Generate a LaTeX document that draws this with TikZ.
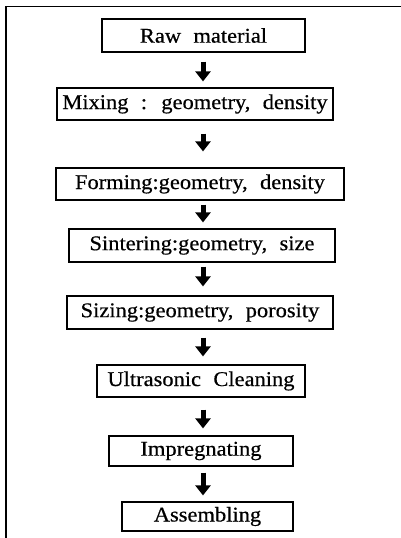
\documentclass[tikz,border=0pt]{standalone}
\usepackage{fontspec}
\newfontfamily\boxfont[FakeStretch=1.07,FakeBold=0.5,WordSpace={2.2,1,1}]{Liberation Serif}
\usetikzlibrary{arrows.meta}
\begin{document}
\begin{tikzpicture}[x=1pt,y=-1pt,
  stepbox/.style={draw,line width=1.2pt,inner sep=0pt,font=\boxfont\fontsize{21}{25}\selectfont},
  flowarrow/.style={line width=5pt,-{Triangle[width=15pt,length=10pt]}}]
\useasboundingbox (0,0) rectangle (401,538);
\draw[line width=1.8pt] (6,538) -- (6,6.5) -- (401,6.5);
\coordinate (ax) at (203,0);
\node[stepbox,minimum width=203pt,minimum height=33pt] (raw) at (203.5,35.5) {Raw material};
\node[stepbox,minimum width=276pt,minimum height=32pt] (mix) at (195,104) {Mixing : geometry, density};
\node[stepbox,minimum width=288pt,minimum height=32pt] (form) at (200,184) {Forming:geometry, density};
\node[stepbox,minimum width=266pt,minimum height=33pt] (sint) at (202,245.5) {Sintering:geometry, size};
\node[stepbox,minimum width=266pt,minimum height=33pt] (siz) at (200,312.5) {Sizing:geometry, porosity};
\node[stepbox,minimum width=208pt,minimum height=32pt] (ultra) at (201,381) {Ultrasonic Cleaning};
\node[stepbox,minimum width=184pt,minimum height=30pt] (imp) at (201,451) {Impregnating};
\node[stepbox,minimum width=171pt,minimum height=29pt] (ass) at (207.5,516.5) {Assembling};
\draw[flowarrow,shorten <=9pt,shorten >=6pt] (raw.south -| ax) -- (mix.north -| ax);
\draw[flowarrow,shorten <=13pt,shorten >=16pt] (mix.south -| ax) -- (form.north -| ax);
\draw[flowarrow,shorten <=4pt,shorten >=6pt] (form.south -| ax) -- (sint.north -| ax);
\draw[flowarrow,shorten <=4pt,shorten >=9pt] (sint.south -| ax) -- (siz.north -| ax);
\draw[flowarrow,shorten <=8pt,shorten >=8pt] (siz.south -| ax) -- (ultra.north -| ax);
\draw[flowarrow,shorten <=12pt,shorten >=7pt] (ultra.south -| ax) -- (imp.north -| ax);
\draw[flowarrow,shorten <=6pt,shorten >=6pt] (imp.south -| ax) -- (ass.north -| ax);
\end{tikzpicture}
\end{document}
